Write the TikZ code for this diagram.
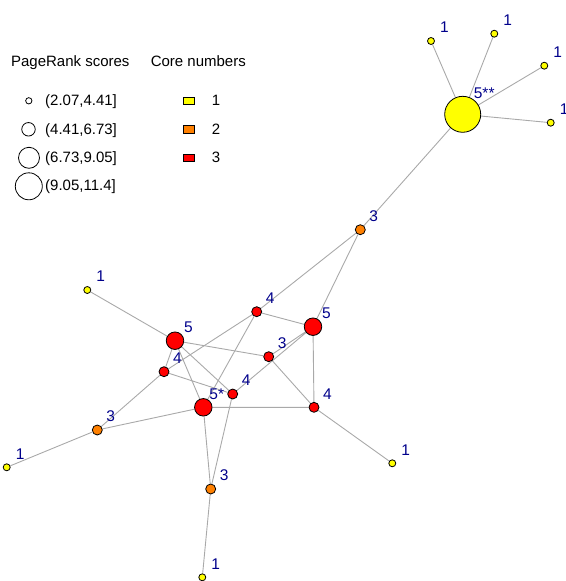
\documentclass[tikz,border=0pt]{standalone}
\usepackage{fontspec}
\setmainfont{Liberation Sans}
\usetikzlibrary{backgrounds, calc}
\definecolor{coreone}{HTML}{FFFF00}
\definecolor{coretwo}{HTML}{FF8000}
\definecolor{corethree}{HTML}{FF0000}
\definecolor{lblblue}{HTML}{00008B}
\definecolor{edgegray}{HTML}{A9A9A9}
\tikzset{
        vert/.style={circle, draw, line width=0.8pt, inner sep=0pt},
        leaf/.style={vert, fill=coreone, minimum size=7pt},
        mid/.style={vert, fill=coretwo, minimum size=10pt},
        core/.style={vert, fill=corethree, minimum size=10pt},
        big/.style={vert, fill=corethree, minimum size=17.5pt},
        hubv/.style={vert, fill=coreone, minimum size=36pt},
        lbl/.style={text=lblblue, font=\fontsize{15.5}{18}\selectfont, inner sep=0pt, xshift=13.5pt, yshift=13.5pt},
        tag/.style={label={[lbl]center:#1}},
        edge/.style={draw=edgegray, line width=0.9pt},
        legtxt/.style={font=\fontsize{15}{18}\selectfont, inner sep=0pt},
        prcirc/.style={circle, draw, line width=0.8pt, inner sep=0pt},
        corebox/.style={draw, line width=0.8pt, minimum width=11pt, minimum height=7.5pt, inner sep=0pt}
    }

\begin{document}
\begin{tikzpicture}[x=1pt, y=-1pt]
    \useasboundingbox (0,0) rectangle (565,581);
    \clip (0,0) rectangle (565,581);

    % legend: PageRank scores
    \node[legtxt, anchor=base] (prhead) at (70.3, 66.8) {PageRank scores};
    \node[prcirc, minimum size=6.3pt] (pr1) at (28.8, 100.8) {};
    \node[prcirc, minimum size=13.5pt] (pr2) at (28.5, 129.3) {};
    \node[prcirc, minimum size=21pt] (pr3) at (29, 157.8) {};
    \node[prcirc, minimum size=27pt] (pr4) at (28.8, 186.3) {};
    \node[legtxt, anchor=base west] (prt1) at (45, 105.7) {(2.07,4.41]};
    \node[legtxt, anchor=base west] (prt2) at (45, 134) {(4.41,6.73]};
    \node[legtxt, anchor=base west] (prt3) at (45, 162.3) {(6.73,9.05]};
    \node[legtxt, anchor=base west] (prt4) at (45, 190.7) {(9.05,11.4]};

    % legend: core numbers
    \node[legtxt, anchor=base] (cohead) at (198.3, 66.8) {Core numbers};
    \node[corebox, fill=coreone] (co1) at (189, 100.7) {};
    \node[corebox, fill=coretwo] (co2) at (189, 129.3) {};
    \node[corebox, fill=corethree] (co3) at (189, 157.8) {};
    \node[legtxt, anchor=base] (cot1) at (216, 105.7) {1};
    \node[legtxt, anchor=base] (cot2) at (216, 134) {2};
    \node[legtxt, anchor=base] (cot3) at (216, 162.3) {3};

    % hub and its leaves
    \node[hubv, label={[lbl, xshift=8pt, yshift=8pt]center:5**}] (hub) at (462.7, 114.3) {};
    \node[leaf, tag=1] (lt1) at (431, 41) {};
    \node[leaf, tag=1] (lt2) at (494.3, 33.7) {};
    \node[leaf, tag=1] (lt3) at (544.3, 65.7) {};
    \node[leaf, tag=1] (lt4) at (550.7, 122.7) {};
    \node[mid, tag=3] (ca) at (360.3, 229.7) {};

    % dense core
    \node[core, tag=4] (r4t) at (256.7, 311.7) {};
    \node[big, tag=5] (r5r) at (313, 326.7) {};
    \node[big, tag=5] (r5l) at (175, 340.7) {};
    \node[core, tag=3] (r3m) at (268.7, 356.7) {};
    \node[core, tag=4] (r4l) at (164, 371.7) {};
    \node[core, tag=4] (r4c) at (232.7, 394) {};
    \node[big, tag=5*] (r5s) at (203.3, 407.3) {};
    \node[core, tag=4] (r4r) at (314, 407.3) {};

    % outer ring
    \node[mid, tag=3] (cb) at (97.3, 430) {};
    \node[mid, tag=3] (cc) at (210.7, 489) {};
    \node[leaf, tag=1] (lnw) at (87.3, 290) {};
    \node[leaf, tag=1] (lw) at (6.7, 467.3) {};
    \node[leaf, tag=1] (lse) at (392.3, 463.3) {};
    \node[leaf, tag=1] (ls) at (202.3, 577.3) {};

    \begin{scope}[on background layer]
    % hub edges
    \draw[edge] (hub)--(lt1) (hub)--(lt2) (hub)--(lt3) (hub)--(lt4);
    \draw[edge] (hub)--(ca) (ca)--(r4t) (ca)--(r5r);

    % core edges
    \draw[edge] (r4t)--(r5r) (r4t)--(r4l) (r4t)--(r5s);
    \draw[edge] (r5l)--(lnw) (r5l)--(r3m) (r5l)--(r4l) (r5l)--(r5s) (r5l)--(r4c);
    \draw[edge] (r4l)--(r4c) (r4l)--(cb);
    \draw[edge] (r3m)--(r5r) (r3m)--(r4r) (r4c)--(r5r) (r4c)--(cc);
    \draw[edge] (r5r)--(r4r) (r5s)--(r4r) (r5s)--(cb) (r5s)--(cc);

    % outer edges
    \draw[edge] (r4r)--(lse) (cb)--(lw) (cc)--(ls);
    \end{scope}

\end{tikzpicture}
\end{document}
